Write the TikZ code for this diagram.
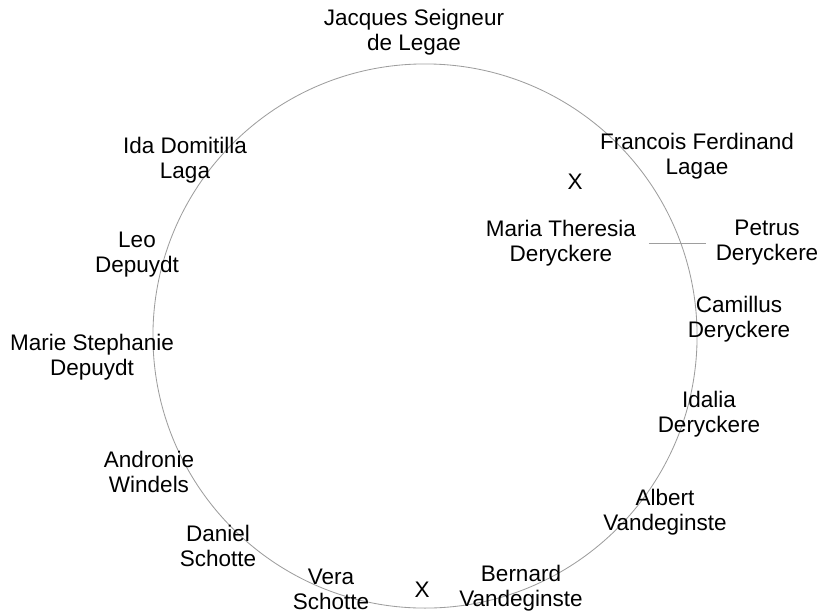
\documentclass[tikz,border=0pt]{standalone}
\usepackage{fontspec}
\setmainfont{Liberation Sans}
\usepackage{tikz}
\usetikzlibrary{positioning}

\begin{document}
\begin{tikzpicture}[x=0.025cm, y=-0.025cm,
        person/.style={align=center, font=\fontsize{16}{17.7}\selectfont, inner sep=0pt},
        cross/.style={font=\fontsize{16}{17.7}\selectfont, inner sep=0pt},
        ring/.style={draw=black!38, line width=0.6pt},
        link/.style={draw=black!38, line width=0.6pt}]
        \useasboundingbox (0,0) rectangle (820,612);
        \coordinate (centre) at (425,336);
        \draw[ring] (centre) circle [radius=6.8cm];

        \node[person] (jacques) at (414,32) {Jacques Seigneur\\de Legae};
        \node[person] (francois) at (697,156) {Francois Ferdinand\\Lagae};
        \node[person] (maria) at (561,243) {Maria Theresia\\Deryckere};
        \node[person] (petrus) at (767,243) {Petrus\\Deryckere};
        \node[person] (camillus) at (739,319) {Camillus\\Deryckere};
        \node[person] (idalia) at (709,414) {Idalia\\Deryckere};
        \node[person] (albert) at (665,512) {Albert\\Vandeginste};
        \node[person] (bernard) at (521,588) {Bernard\\Vandeginste};
        \node[person] (vera) at (331,589) {Vera\\Schotte};
        \node[person] (daniel) at (218,546) {Daniel\\Schotte};
        \node[person] (andronie) at (149,472) {Andronie\\Windels};
        \node[person] (marie) at (92,357) {Marie Stephanie\\Depuydt};
        \node[person] (leo) at (137,255) {Leo\\Depuydt};
        \node[person] (ida) at (185,160) {Ida Domitilla\\Laga};

        \node[cross] (xtop) at (575,182) {X};
        \node[cross] (xbottom) at (422,590) {X};

        \draw[link, shorten <=9pt, shorten >=7pt] (maria.east) -- (petrus.west);
    \end{tikzpicture}
\end{document}
